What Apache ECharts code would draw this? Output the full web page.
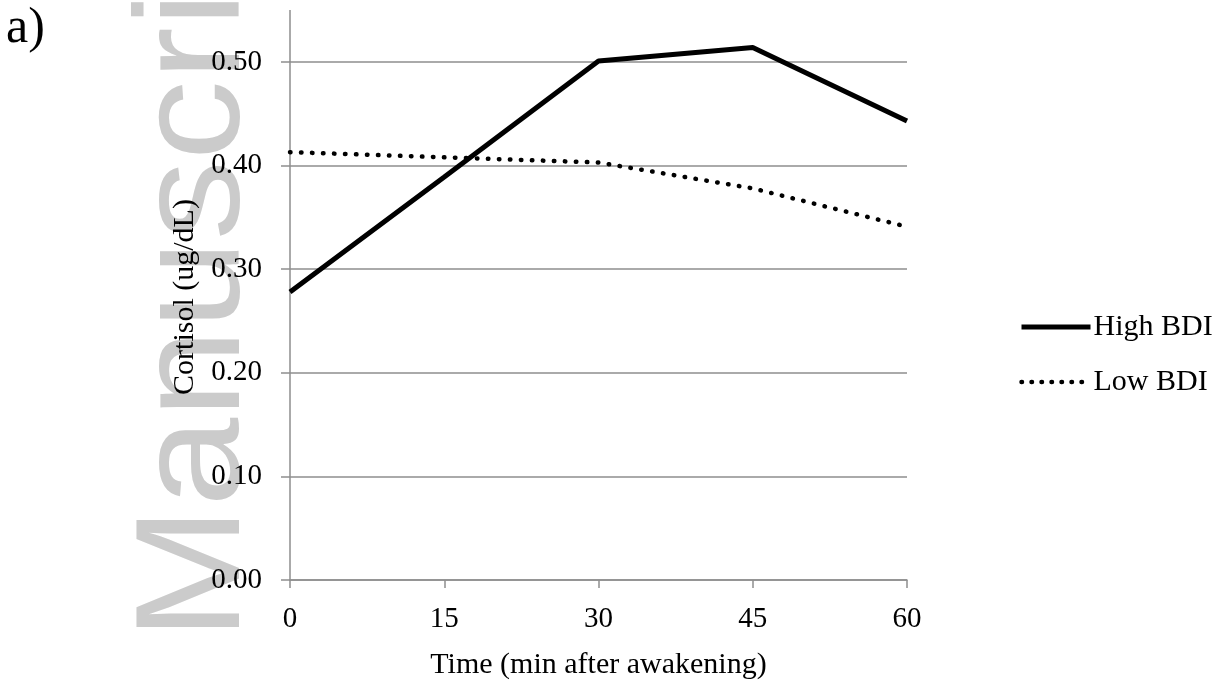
<!DOCTYPE html>
<html>
<head>
<meta charset="utf-8">
<script src="https://cdn.jsdelivr.net/npm/echarts@6/dist/echarts.min.js"></script>
<style>
  html, body { margin: 0; padding: 0; background: #fff; }
  #main { width: 1222px; height: 685px; }
</style>
</head>
<body>
<div id="main"></div>
<script>
// 数据
var minutes = [0, 15, 30, 45, 60];
var highBDI = [0.278, 0.389, 0.501, 0.514, 0.443];
var lowBDI = [0.413, 0.408, 0.403, 0.378, 0.341];
var seriesNames = ['High BDI', 'Low BDI'];

function pairs(xs, ys) {
    return xs.map(function (x, i) { return [x, ys[i]]; });
}

var serif = '"Liberation Serif", "Times New Roman", serif';
var gray = '#8e8e8e';
var dotted = { color: '#000', width: 4.5, type: [0.5, 10.5], cap: 'round' };

var myChart = echarts.init(document.getElementById('main'));

var option = {
    backgroundColor: '#ffffff',
    animation: false,
    graphic: [
        {
            // 水印
            type: 'text',
            z: -10,
            x: 124,
            y: 640,
            rotation: Math.PI / 2,
            scaleX: 1.08,
            style: {
                text: 'Manuscri',
                font: '148px "Liberation Sans", Arial, sans-serif',
                fill: '#cbcbcb'
            }
        },
        {
            type: 'text',
            left: 6,
            top: 4,
            style: {
                text: 'a)',
                font: '50px ' + serif,
                fill: '#000'
            }
        }
    ],
    grid: {
        left: 290,
        right: 315,
        top: 62,
        bottom: 104
    },
    legend: {
        orient: 'vertical',
        left: 1019,
        top: 312,
        padding: 0,
        itemWidth: 69,
        itemHeight: 22,
        itemGap: 25,
        itemStyle: { opacity: 0 },
        textStyle: {
            color: '#000',
            fontFamily: serif,
            fontSize: 30,
            padding: [0, 0, 0, -2]
        },
        data: [
            { name: seriesNames[0], lineStyle: { color: '#000', width: 5 } },
            { name: seriesNames[1], lineStyle: { color: '#000', width: 4.5, type: [0.5, 9.5], cap: 'round' } }
        ]
    },
    xAxis: {
        type: 'value',
        min: 0,
        max: 60,
        interval: 15,
        name: 'Time (min after awakening)',
        nameLocation: 'middle',
        nameGap: 70,
        nameTextStyle: { color: '#000', fontFamily: serif, fontSize: 30 },
        axisLine: { lineStyle: { color: gray, width: 1.5 } },
        axisTick: { show: true, inside: false, length: 8, lineStyle: { color: gray, width: 1.5 } },
        axisLabel: { color: '#000', fontFamily: serif, fontSize: 29, margin: 25 },
        splitLine: { show: false }
    },
    yAxis: {
        type: 'value',
        min: 0,
        max: 0.5,
        interval: 0.1,
        name: 'Cortisol (ug/dL)',
        nameLocation: 'middle',
        nameGap: 86,
        nameTextStyle: { color: '#000', fontFamily: serif, fontSize: 30, padding: [0, 0, 0, 48] },
        axisLine: { show: true, lineStyle: { color: gray, width: 1.5 } },
        axisTick: { show: true, inside: false, length: 9, lineStyle: { color: gray, width: 1.5 } },
        axisLabel: {
            color: '#000', fontFamily: serif, fontSize: 29, margin: 28,
            formatter: function (v) { return v.toFixed(2); }
        },
        splitLine: { show: true, lineStyle: { color: gray, width: 1.5 } }
    },
    series: [
        {
            name: seriesNames[0],
            type: 'line',
            symbol: 'none',
            clip: false,
            data: pairs(minutes, highBDI),
            lineStyle: { color: '#000', width: 5 },
            itemStyle: { color: '#000' }
        },
        {
            name: seriesNames[1],
            type: 'line',
            symbol: 'none',
            clip: false,
            data: pairs(minutes, lowBDI),
            lineStyle: dotted,
            itemStyle: { color: '#000' }
        }
    ]
};

myChart.setOption(option);

// y轴线向上延伸
var top50 = myChart.convertToPixel({ gridIndex: 0 }, [0, 0.5]);
myChart.setOption({
    graphic: option.graphic.concat([{
        type: 'line',
        z: 5,
        shape: { x1: top50[0], y1: top50[1], x2: top50[0], y2: 10 },
        style: { stroke: gray, lineWidth: 1.5 }
    }])
});
</script>
</body>
</html>
